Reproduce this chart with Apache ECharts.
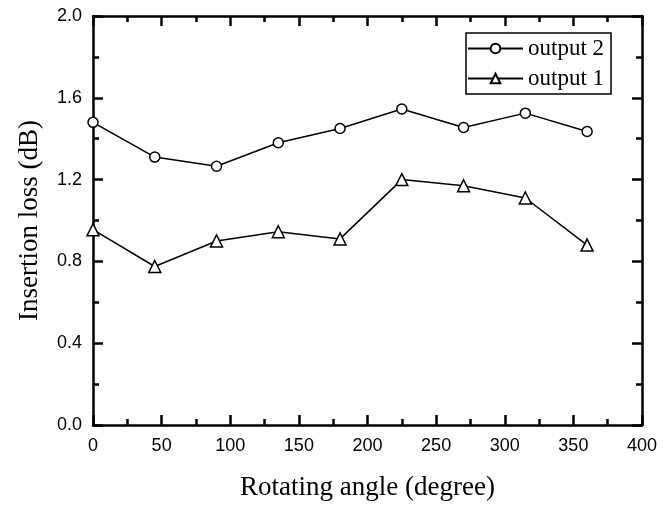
<!DOCTYPE html>
<html>
<head>
<meta charset="utf-8">
<script src="https://cdn.jsdelivr.net/npm/echarts@6/dist/echarts.min.js"></script>
<style>html,body{margin:0;padding:0;background:#fff}#c{width:670px;height:506px}</style>
</head>
<body>
<div id="c"></div>
<script>
const angles = [0, 45, 90, 135, 180, 225, 270, 315, 360];
const output2 = [1.48, 1.31, 1.265, 1.38, 1.45, 1.545, 1.455, 1.525, 1.435];
const output1 = [0.955, 0.775, 0.90, 0.945, 0.91, 1.20, 1.17, 1.11, 0.88];
const seriesNames = ['output 2', 'output 1'];

const chart = echarts.init(document.getElementById('c'), null, {renderer: 'canvas'});
const axisLine = {show: true, onZero: false, lineStyle: {color: '#000', width: 2.5}};
const tick = {show: true, inside: true, length: 10, lineStyle: {color: '#000', width: 2.5}};
const minor = {show: true, splitNumber: 2, length: 6, lineStyle: {color: '#000', width: 2.5}};
const tickFont = {color: '#000', fontFamily: 'Liberation Sans, Arial, sans-serif', fontSize: 18};
const titleFont = {color: '#000', fontFamily: 'Liberation Serif, Times New Roman, serif', fontSize: 27};

const pair = (xs, ys) => xs.map((x, i) => [x, ys[i]]);

chart.setOption({
  backgroundColor: '#fff',
  animation: false,
  grid: {left: 93, right: 28, top: 16, bottom: 81},
  legend: {
    data: seriesNames,
    orient: 'vertical',
    left: 466, top: 33,
    borderColor: '#000', borderWidth: 1.5,
    padding: [4, 7, 4, 1],
    itemWidth: 55, itemHeight: 12, itemGap: 7,
    textStyle: {color: '#000', fontFamily: 'Liberation Serif, Times New Roman, serif', fontSize: 23}
  },
  xAxis: [{
    type: 'value', min: 0, max: 400, interval: 50, position: 'bottom',
    axisLine, axisTick: tick, minorTick: minor, splitLine: {show: false},
    axisLabel: Object.assign({margin: 12}, tickFont),
    name: 'Rotating angle (degree)', nameLocation: 'middle', nameGap: 49,
    nameTextStyle: titleFont
  }, {
    type: 'value', min: 0, max: 400, interval: 50, position: 'top',
    axisLine, axisTick: tick, minorTick: minor, splitLine: {show: false},
    axisLabel: {show: false}
  }],
  yAxis: [{
    type: 'value', min: 0, max: 2.0, interval: 0.4, position: 'left',
    axisLine, axisTick: tick, minorTick: minor, splitLine: {show: false},
    axisLabel: Object.assign({margin: 11, formatter: v => v.toFixed(1)}, tickFont),
    name: 'Insertion loss (dB)', nameLocation: 'middle', nameGap: 50,
    nameTextStyle: titleFont
  }, {
    type: 'value', min: 0, max: 2.0, interval: 0.4, position: 'right',
    axisLine, axisTick: tick, minorTick: minor, splitLine: {show: false},
    axisLabel: {show: false}
  }],
  series: [{
    name: seriesNames[0], type: 'line', data: pair(angles, output2),
    symbol: 'circle', symbolSize: 10,
    lineStyle: {color: '#000', width: 1.5},
    itemStyle: {color: '#fff', borderColor: '#000', borderWidth: 1.5}
  }, {
    name: seriesNames[1], type: 'line', data: pair(angles, output1),
    symbol: 'triangle', symbolSize: 12,
    lineStyle: {color: '#000', width: 1.5},
    itemStyle: {color: '#fff', borderColor: '#000', borderWidth: 1.5}
  }]
});
</script>
</body>
</html>
